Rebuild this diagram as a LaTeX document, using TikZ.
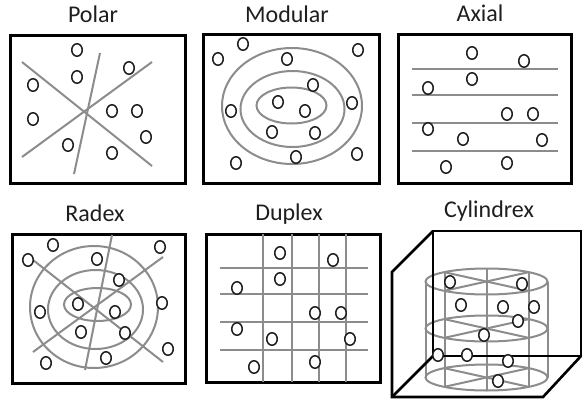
\documentclass[tikz,border=0pt]{standalone}
\usepackage{fontspec}
\setmainfont{Carlito}
\usetikzlibrary{shapes.geometric}
\definecolor{gridgray}{HTML}{8C8C8C}
\definecolor{ink}{HTML}{1E1E1E}
\begin{document}
\begin{tikzpicture}[x=1pt,y=-1pt,
  frame/.style={draw=black,line width=3pt},
  cube/.style={draw=black,line width=2.6pt,line join=miter},
  guide/.style={draw=gridgray,line width=2pt},
  pt/.style={ellipse,draw=ink,fill=white,line width=1.5pt,minimum width=10.5pt,minimum height=12.5pt,inner sep=0pt},
  title/.style={anchor=base,text=ink,font=\fontsize{24}{28}\selectfont}]
\useasboundingbox (0,0) rectangle (582,399);

% ---------- titles ----------
\node[title] (tpolar) at (93,22) {Polar};
\node[title] (tmod) at (287,22) {Modular};
\node[title] (taxial) at (480,21) {Axial};
\node[title] (tradex) at (95,221) {Radex};
\node[title] (tduplex) at (289,220) {Duplex};
\node[title] (tcyl) at (489,217) {Cylindrex};

% ---------- Polar ----------
\draw[frame] (10,35) rectangle (185,183);
\draw[guide] (22,62) -- (152,166);
\draw[guide] (22,157) -- (152,62);
\draw[guide] (100,53) -- (74,174);
\foreach \x/\y [count=\i] in {77/50,77/77,129/68,33/85,33/119,112/111,137/111,146/137,68/145,112/153}
  \node[pt] (pa\i) at (\x,\y) {};

% ---------- Modular ----------
\draw[frame] (203,34) rectangle (379,183);
\draw[guide] (292,106) ellipse [x radius=70, y radius=58];
\draw[guide] (292.5,109) ellipse [x radius=52, y radius=38];
\draw[guide] (291.5,105.5) ellipse [x radius=35, y radius=18];
\foreach \x/\y [count=\i] in {243/44,218/59,287/59,358/50,313/85,231/111,278/102,305/111,352/103,272/132,315/133,296/157,357/154,236/163}
  \node[pt] (mo\i) at (\x,\y) {};

% ---------- Axial ----------
\draw[frame] (398,34) rectangle (571,183);
\foreach \y in {69,95,123,151}
  \draw[guide] (412,\y) -- (558,\y);
\foreach \x/\y [count=\i] in {472/53,524/61,472/79,428/88,507/114,533/114,428/129,463/139,542/140,446/167,507/163}
  \node[pt] (ax\i) at (\x,\y) {};

% ---------- Radex ----------
\draw[frame] (12,234) rectangle (185,383);
\draw[guide] (94,307) ellipse [x radius=64, y radius=61];
\draw[guide] (95.5,309.5) ellipse [x radius=47.5, y radius=39.5];
\draw[guide] (97.5,304.5) ellipse [x radius=33.5, y radius=16.5];
\draw[guide] (33,260) -- (163,362);
\draw[guide] (33,352) -- (163,257);
\draw[guide] (112,235) -- (85,370);
\foreach \x/\y [count=\i] in {53/245,28/260,160/247,97/259,119/280,78/304,115/312,162/303,40/312,81/332,125/333,168/349,106/358,46/363}
  \node[pt] (ra\i) at (\x,\y) {};

% ---------- Duplex ----------
\draw[frame] (206,234) rectangle (380,382);
\foreach \x in {263,292,319,346}
  \draw[guide] (\x,234) -- (\x,382);
\foreach \y in {268,294,322,350}
  \draw[guide] (220,\y) -- (368,\y);
\foreach \x/\y [count=\i] in {280/253,333/260,280/279,237/288,315/313,341/313,237/329,272/339,350/339,254/367,315/362}
  \node[pt] (du\i) at (\x,\y) {};

% ---------- Cylindrex ----------
\foreach \c in {281.5,328.5,377.5}{
  \draw[guide] (486.5,\c) ellipse [x radius=61, y radius=13];
  \draw[guide] (444.5,\c-9.3) -- (528.5,\c+9.3);
  \draw[guide] (444.5,\c+9.3) -- (528.5,\c-9.3);
}
\draw[guide] (425.5,281.5) -- (425.5,377.5);
\draw[guide] (547.5,281.5) -- (547.5,377.5);
\draw[guide] (444.5,272.2) -- (444.5,386.8);
\draw[guide] (486.5,268.5) -- (486.5,390.5);
\draw[guide] (528.5,272.2) -- (528.5,386.8);
% box
\draw[cube] (433,356) -- (433,231) -- (581,231) -- (581,356) -- cycle;
\draw[cube] (433,231) -- (392,272) -- (392,397) -- (543,397) -- (581,356);
\draw[cube] (392,397) -- (433,356);
\foreach \x/\y [count=\i] in {450/282,522/284,461/305,503/307,534/307,518/321,484/335,438/355,467/355,508/361,498/381}
  \node[pt] (cy\i) at (\x,\y) {};
\end{tikzpicture}
\end{document}
